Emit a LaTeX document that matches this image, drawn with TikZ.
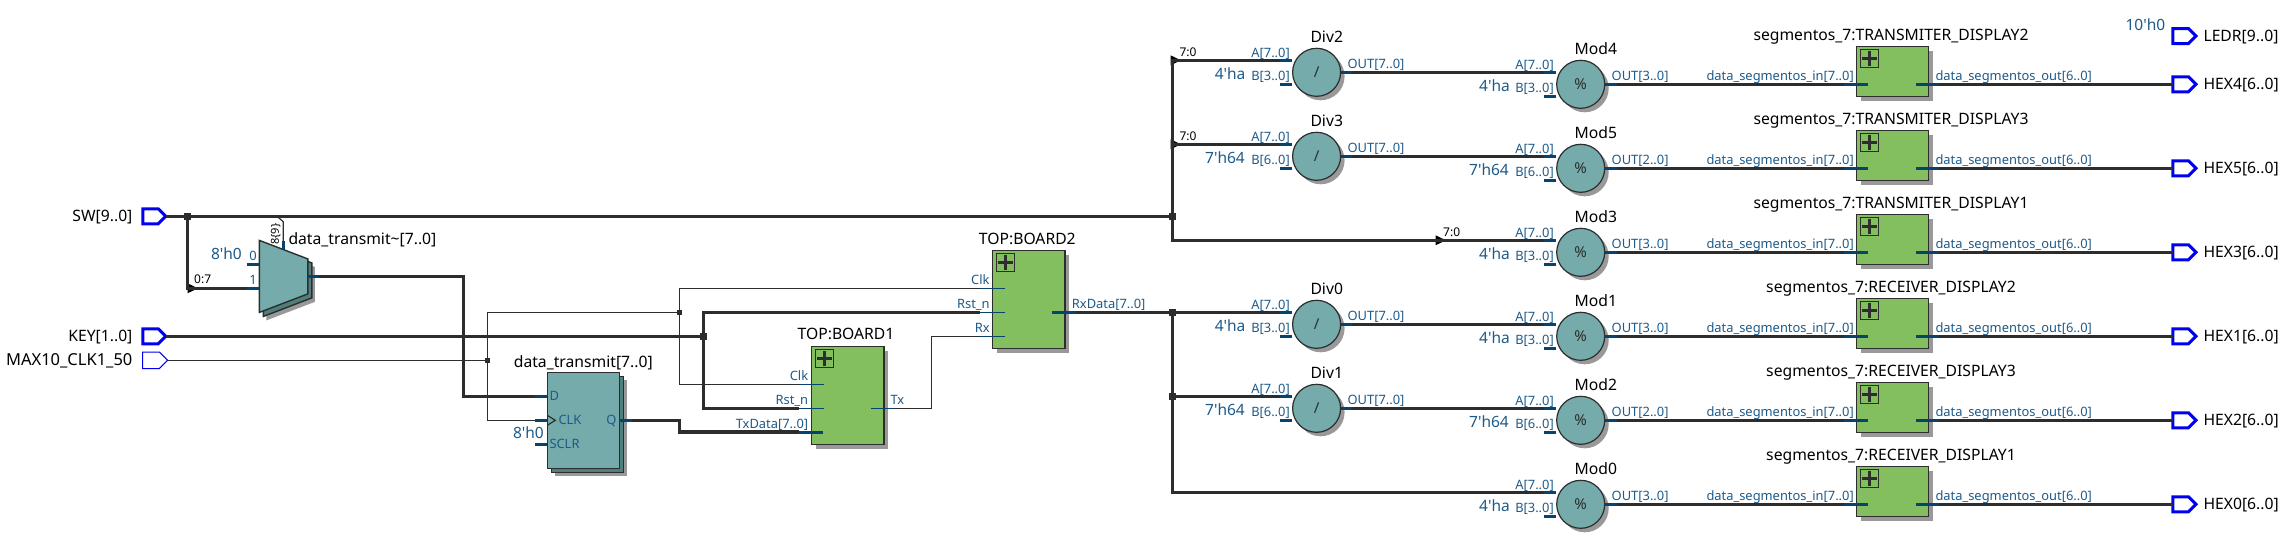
\documentclass[tikz,border=0pt]{standalone}
\usepackage{fontspec}
\setmainfont{Noto Sans}
\usetikzlibrary{shapes, shapes.geometric, shapes.symbols, shadows}
\definecolor{wirecol}{HTML}{2D2D2D}
\definecolor{stubcol}{HTML}{06436E}
\definecolor{textblue}{HTML}{1D5A8A}
\definecolor{tealfill}{HTML}{75ABAA}
\definecolor{tealdark}{HTML}{4F7F7D}
\definecolor{greenfill}{HTML}{83BF5F}
\definecolor{shadowcol}{HTML}{999999}
\definecolor{pinblue}{HTML}{0000F0}

\begin{document}
\begin{tikzpicture}[
        x=1pt, y=-1pt,
        busw/.style={line width=3.2pt, draw=wirecol},
        thinw/.style={line width=1.2pt, draw=wirecol},
        stubw/.style={line width=3pt, draw=stubcol},
        thinstub/.style={line width=1.2pt, draw=stubcol},
        block/.style={draw=wirecol, line width=1.4pt, fill=greenfill, rectangle, outer sep=0pt, inner sep=0pt, minimum width=72.3pt, minimum height=98pt, drop shadow={shadow xshift=4.5pt, shadow yshift=-4.3pt, fill=shadowcol, opacity=1}},
        segblock/.style={block, minimum height=50.4pt},
        plusbox/.style={draw=wirecol, line width=1.2pt, rectangle, outer sep=0pt, inner sep=0pt, minimum size=18pt, path picture={\draw[line width=3pt, draw=wirecol] (path picture bounding box.center) +(-7.5,0) -- +(7.5,0) +(0,-7.5) -- +(0,7.5);}},
        opcirc/.style={draw=wirecol, line width=1.2pt, fill=tealfill, circle, outer sep=0pt, inner sep=0pt, minimum size=48pt, text=wirecol, font=\fontsize{15}{18}\selectfont, drop shadow={shadow xshift=4pt, shadow yshift=-4pt, fill=shadowcol, opacity=1}},
        ffbox/.style={draw=wirecol, line width=1.4pt, fill=tealfill, rectangle, outer sep=0pt, inner sep=0pt, minimum width=72pt, minimum height=96pt, drop shadow={shadow xshift=8pt, shadow yshift=-8pt, fill=shadowcol, opacity=1}, copy shadow={shadow xshift=4pt, shadow yshift=-4pt, fill=tealdark, draw=wirecol, opacity=1}},
        muxbody/.style={draw=wirecol, line width=1.4pt, fill=tealfill},
        pinio/.style={signal, signal to=east, signal pointer angle=90, draw=pinblue, line width=3pt, outer sep=0pt, inner sep=0pt, minimum width=23pt, minimum height=15pt},
        pinthin/.style={pinio, line width=1pt, minimum width=25pt, minimum height=16.5pt},
        jctbig/.style={rectangle, fill=wirecol, inner sep=0pt, minimum size=6.5pt},
        jctsmall/.style={rectangle, fill=wirecol, inner sep=0pt, minimum size=4.5pt},
        taptri/.style={isosceles triangle, isosceles triangle stretches=true, fill=black, inner sep=0pt, outer sep=0pt, minimum width=10pt, minimum height=10.5pt, anchor=apex},
        txt/.style={inner sep=0pt, text depth=0pt},
        caption/.style={txt, text height=13pt, text=black, font=\fontsize{15.7}{18}\selectfont},
        portr/.style={txt, text height=10pt, anchor=east, text=textblue, font=\fontsize{12.9}{14}\selectfont},
        portl/.style={txt, text height=10pt, anchor=west, text=textblue, font=\fontsize{12.9}{14}\selectfont},
        constl/.style={txt, text height=11pt, anchor=east, text=textblue, font=\fontsize{15.5}{18}\selectfont},
        tapl/.style={txt, text height=9.5pt, anchor=west, text=black, font=\fontsize{12}{14}\selectfont}
    ]
        \useasboundingbox (0,0) rectangle (2283,541);

        % Input pins
        \node[pinio] (swpin) at (150.5,216.3) {};
        \node[pinio] (keypin) at (150.5,336.3) {};
        \node[pinthin] (clkpin) at (151,360.3) {};
        \node[caption, anchor=east] (swlab) at (132.6,214.7) {SW[9..0]};
        \node[caption, anchor=east] (keylab) at (132.6,334.7) {KEY[1..0]};
        \node[caption, anchor=east, font=\fontsize{16.5}{18}\selectfont] (clklab) at (132.6,359) {MAX10\_CLK1\_50};

        % Junctions
        \node[jctbig] (swj1) at (187.5,216.3) {};
        \node[jctbig] (swj2) at (1172.5,216.3) {};
        \node[jctbig] (keyj) at (703.6,336.3) {};
        \node[jctsmall] (clkj1) at (487.5,360.3) {};
        \node[jctsmall] (clkj2) at (679.5,312.3) {};
        \node[jctbig] (rxj1) at (1172.5,312.3) {};
        \node[jctbig] (rxj2) at (1172.5,396.3) {};

        % Mux
        \node[tapl, rotate=90, anchor=center, font=\fontsize{11}{14}\selectfont] (seltxt) at (274,234) {8\{9\}};
        \coordinate (mux) at (283.6,276.4);
        \fill[shadowcol] (mux) ++(-17.2,-28) -- ++(48.4,18.5) -- ++(0,35) -- ++(-48.4,18.5) -- cycle;
        \draw[muxbody, fill=tealdark] (mux) ++(-20.2,-32) -- ++(48.4,18.5) -- ++(0,35) -- ++(-48.4,18.5) -- cycle;
        \draw[muxbody] (mux) ++(-24.2,-36) -- ++(48.4,18.5) -- ++(0,35) -- ++(-48.4,18.5) -- cycle;
        \node[caption, anchor=west] (muxlab) at (288.3,237.7) {data\_transmit\textasciitilde[7..0]};
        \node[constl] (muxc) at (242,254) {8\textquotesingle h0};
        \node[portr] (mux0) at (257,255.7) {0};
        \node[portr] (mux1) at (257,279.3) {1};
        \node[tapl] (muxtap) at (194,279) {0:7};
        \node[taptri] (muxtri) at (198,288.3) {};
        \draw[stubw] ([shift={(-24.2,-12.1)}]mux) -- ++(-12.4,0);
        \draw[stubw] ([shift={(-24.2,11.9)}]mux) -- ++(-12.4,0) coordinate (muxi);
        \draw[stubw] ([shift={(24.2,0)}]mux) -- ++(11,0) coordinate (muxo);
        \draw[stubw] ([shift={(-0.3,-26.8)}]mux) -- ++(0,-8.6) coordinate (muxs);
        \coordinate (seltap) at (277,216.3);
        \coordinate (selbend) at (283.3,221.7);
        \coordinate (muxbend) at (463.8,396.3);

        % Register
        \node[ffbox] (ff) at (583.3,420.3) {};
        \node[caption] (fflab) at (583.3,361) {data\_transmit[7..0]};
        \node[constl] (ffc) at (544,433.3) {8\textquotesingle h0};
        \node[portl] (ffdl) at (549.3,395.7) {D};
        \node[portl] (ffclkl) at (558.3,419.7) {CLK};
        \node[portl] (ffsl) at (549.3,443.7) {SCLR};
        \node[portr] (ffql) at (616.7,419.7) {Q};
        \draw[stubw] ([shift={(-36,-24)}]ff.center) -- ++(-12.3,0) coordinate (ffd);
        \draw[stubw] ([shift={(-36,0)}]ff.center) -- ++(-12.3,0) coordinate (ffclk);
        \draw[stubw] ([shift={(-36,24)}]ff.center) -- ++(-12.3,0);
        \draw[stubw] ([shift={(36,0)}]ff.center) -- ++(12.4,0) coordinate (ffq);
        \draw[thinw] ([shift={(-36,-5)}]ff.center) -- ++(8,5) -- ++(-8,5);
        \coordinate (txbend) at (679.5,432);

        % Boards
        \node[block] (board1) at (847.65,395.3) {};
        \node[plusbox] (plus1) at (824.5,358.5) {};
        \node[caption] (board1lab) at (846,333.3) {TOP:BOARD1};
        \node[portr] (b1clkl) at (808.4,375.7) {Clk};
        \node[portr] (b1rstl) at (808.4,399.7) {Rst\_n};
        \node[portr] (b1txdl) at (808.4,423.7) {TxData[7..0]};
        \node[portl] (b1txl) at (890.3,399.7) {Tx};
        \draw[thinstub] ([shift={(-23.65,-11)}]board1.center) -- ++(-25,0) coordinate (b1clk);
        \draw[thinstub] ([shift={(-23.65,13)}]board1.center) -- ++(-25,0) coordinate (b1rst);
        \draw[stubw] ([shift={(-24.65,36.7)}]board1.center) -- ++(-24,0) coordinate (b1txd);
        \draw[thinstub] ([shift={(23.35,13)}]board1.center) -- ++(23,0) coordinate (b1tx);
        \coordinate (rxbend) at (931.7,336.3);

        \node[block] (board2) at (1028.65,299.3) {};
        \node[plusbox] (plus2) at (1005.5,262.5) {};
        \node[caption] (board2lab) at (1027.3,237.7) {TOP:BOARD2};
        \node[portr] (b2clkl) at (989.8,279.7) {Clk};
        \node[portr] (b2rstl) at (989.8,303.7) {Rst\_n};
        \node[portr] (b2rxl) at (989.8,327.7) {Rx};
        \node[portl] (b2rxdl) at (1071.7,303.7) {RxData[7..0]};
        \draw[thinstub] ([shift={(-23.65,-11)}]board2.center) -- ++(-25,0) coordinate (b2clk);
        \draw[thinstub] ([shift={(-23.65,13)}]board2.center) -- ++(-25,0) coordinate (b2rst);
        \draw[thinstub] ([shift={(-23.65,37)}]board2.center) -- ++(-25,0) coordinate (b2rx);
        \draw[stubw] ([shift={(23.35,13)}]board2.center) -- ++(24,0) coordinate (b2rxd);

        % Dividers
        \node[taptri] (div2tri) at (1181,60.3) {};
        \node[tapl] (div2tap) at (1179.4,51.7) {7:0};
        \node[opcirc] (div2) at (1316.6,72.3) {/};
        \node[caption, anchor=west] (div2lab) at (1310.3,36.3) {Div2};
        \node[portr] (div2al) at (1290,52) {A[7..0]};
        \node[portr] (div2bl) at (1290,75.7) {B[3..0]};
        \node[portl] (div2ol) at (1347.4,63.3) {OUT[7..0]};
        \node[constl] (div2c) at (1245.6,74) {4\textquotesingle ha};
        \draw[stubw] ([shift={(-24.3,-12)}]div2.center) -- ++(-12,0) coordinate (div2a);
        \draw[stubw] ([shift={(-24.3,12)}]div2.center) -- ++(-12,0);
        \draw[stubw] ([shift={(24.4,0)}]div2.center) -- ++(10.6,0) coordinate (div2o);

        \node[taptri] (div3tri) at (1181,144.3) {};
        \node[tapl] (div3tap) at (1179.4,135.7) {7:0};
        \node[opcirc] (div3) at (1316.6,156.3) {/};
        \node[caption, anchor=west] (div3lab) at (1310.3,120.3) {Div3};
        \node[portr] (div3al) at (1290,136) {A[7..0]};
        \node[portr] (div3bl) at (1290,159.7) {B[6..0]};
        \node[portl] (div3ol) at (1347.4,147.3) {OUT[7..0]};
        \node[constl] (div3c) at (1245,158) {7\textquotesingle h64};
        \draw[stubw] ([shift={(-24.3,-12)}]div3.center) -- ++(-12,0) coordinate (div3a);
        \draw[stubw] ([shift={(-24.3,12)}]div3.center) -- ++(-12,0);
        \draw[stubw] ([shift={(24.4,0)}]div3.center) -- ++(10.6,0) coordinate (div3o);

        \node[opcirc] (div0) at (1316.6,324.3) {/};
        \node[caption, anchor=west] (div0lab) at (1310.3,288.3) {Div0};
        \node[portr] (div0al) at (1290,304) {A[7..0]};
        \node[portr] (div0bl) at (1290,327.7) {B[3..0]};
        \node[portl] (div0ol) at (1347.4,315.3) {OUT[7..0]};
        \node[constl] (div0c) at (1245.6,326) {4\textquotesingle ha};
        \draw[stubw] ([shift={(-24.3,-12)}]div0.center) -- ++(-12,0) coordinate (div0a);
        \draw[stubw] ([shift={(-24.3,12)}]div0.center) -- ++(-12,0);
        \draw[stubw] ([shift={(24.4,0)}]div0.center) -- ++(10.6,0) coordinate (div0o);

        \node[opcirc] (div1) at (1316.6,408.3) {/};
        \node[caption, anchor=west] (div1lab) at (1310.3,372.3) {Div1};
        \node[portr] (div1al) at (1290,388) {A[7..0]};
        \node[portr] (div1bl) at (1290,411.7) {B[6..0]};
        \node[portl] (div1ol) at (1347.4,399.3) {OUT[7..0]};
        \node[constl] (div1c) at (1245,410) {7\textquotesingle h64};
        \draw[stubw] ([shift={(-24.3,-12)}]div1.center) -- ++(-12,0) coordinate (div1a);
        \draw[stubw] ([shift={(-24.3,12)}]div1.center) -- ++(-12,0);
        \draw[stubw] ([shift={(24.4,0)}]div1.center) -- ++(10.6,0) coordinate (div1o);

        % Modulos
        \node[opcirc] (mod4) at (1580.7,84.3) {\%};
        \node[caption, anchor=west] (mod4lab) at (1574.4,48.3) {Mod4};
        \node[portr] (mod4al) at (1554,64) {A[7..0]};
        \node[portr] (mod4bl) at (1554,87.7) {B[3..0]};
        \node[portl] (mod4ol) at (1611.5,75.3) {OUT[3..0]};
        \node[constl] (mod4c) at (1510,86) {4\textquotesingle ha};
        \draw[stubw] ([shift={(-24.3,-12)}]mod4.center) -- ++(-12,0) coordinate (mod4a);
        \draw[stubw] ([shift={(-24.3,12)}]mod4.center) -- ++(-12,0);
        \draw[stubw] ([shift={(24.4,0)}]mod4.center) -- ++(11.5,0) coordinate (mod4o);

        \node[opcirc] (mod5) at (1580.7,168.3) {\%};
        \node[caption, anchor=west] (mod5lab) at (1574.4,132.3) {Mod5};
        \node[portr] (mod5al) at (1554,148) {A[7..0]};
        \node[portr] (mod5bl) at (1554,171.7) {B[6..0]};
        \node[portl] (mod5ol) at (1611.5,159.3) {OUT[2..0]};
        \node[constl] (mod5c) at (1509,170) {7\textquotesingle h64};
        \draw[stubw] ([shift={(-24.3,-12)}]mod5.center) -- ++(-12,0) coordinate (mod5a);
        \draw[stubw] ([shift={(-24.3,12)}]mod5.center) -- ++(-12,0);
        \draw[stubw] ([shift={(24.4,0)}]mod5.center) -- ++(11.5,0) coordinate (mod5o);

        \node[taptri] (mod3tri) at (1446,240.3) {};
        \node[tapl] (mod3tap) at (1443,231.7) {7:0};
        \node[opcirc] (mod3) at (1580.7,252.3) {\%};
        \node[caption, anchor=west] (mod3lab) at (1574.4,216.3) {Mod3};
        \node[portr] (mod3al) at (1554,232) {A[7..0]};
        \node[portr] (mod3bl) at (1554,255.7) {B[3..0]};
        \node[portl] (mod3ol) at (1611.5,243.3) {OUT[3..0]};
        \node[constl] (mod3c) at (1510,254) {4\textquotesingle ha};
        \draw[stubw] ([shift={(-24.3,-12)}]mod3.center) -- ++(-12,0) coordinate (mod3a);
        \draw[stubw] ([shift={(-24.3,12)}]mod3.center) -- ++(-12,0);
        \draw[stubw] ([shift={(24.4,0)}]mod3.center) -- ++(11.5,0) coordinate (mod3o);

        \node[opcirc] (mod1) at (1580.7,336.3) {\%};
        \node[caption, anchor=west] (mod1lab) at (1574.4,300.3) {Mod1};
        \node[portr] (mod1al) at (1554,316) {A[7..0]};
        \node[portr] (mod1bl) at (1554,339.7) {B[3..0]};
        \node[portl] (mod1ol) at (1611.5,327.3) {OUT[3..0]};
        \node[constl] (mod1c) at (1510,338) {4\textquotesingle ha};
        \draw[stubw] ([shift={(-24.3,-12)}]mod1.center) -- ++(-12,0) coordinate (mod1a);
        \draw[stubw] ([shift={(-24.3,12)}]mod1.center) -- ++(-12,0);
        \draw[stubw] ([shift={(24.4,0)}]mod1.center) -- ++(11.5,0) coordinate (mod1o);

        \node[opcirc] (mod2) at (1580.7,420.3) {\%};
        \node[caption, anchor=west] (mod2lab) at (1574.4,384.3) {Mod2};
        \node[portr] (mod2al) at (1554,400) {A[7..0]};
        \node[portr] (mod2bl) at (1554,423.7) {B[6..0]};
        \node[portl] (mod2ol) at (1611.5,411.3) {OUT[2..0]};
        \node[constl] (mod2c) at (1509,422) {7\textquotesingle h64};
        \draw[stubw] ([shift={(-24.3,-12)}]mod2.center) -- ++(-12,0) coordinate (mod2a);
        \draw[stubw] ([shift={(-24.3,12)}]mod2.center) -- ++(-12,0);
        \draw[stubw] ([shift={(24.4,0)}]mod2.center) -- ++(11.5,0) coordinate (mod2o);

        \node[opcirc] (mod0) at (1580.7,504.3) {\%};
        \node[caption, anchor=west] (mod0lab) at (1574.4,468.3) {Mod0};
        \node[portr] (mod0al) at (1554,484) {A[7..0]};
        \node[portr] (mod0bl) at (1554,507.7) {B[3..0]};
        \node[portl] (mod0ol) at (1611.5,495.3) {OUT[3..0]};
        \node[constl] (mod0c) at (1510,506) {4\textquotesingle ha};
        \draw[stubw] ([shift={(-24.3,-12)}]mod0.center) -- ++(-12,0) coordinate (mod0a);
        \draw[stubw] ([shift={(-24.3,12)}]mod0.center) -- ++(-12,0);
        \draw[stubw] ([shift={(24.4,0)}]mod0.center) -- ++(11.5,0) coordinate (mod0o);

        % Display blocks
        \node[segblock] (seg4) at (1892.5,71.5) {};
        \node[plusbox] (plus4) at (1869.5,58.2) {};
        \node[caption] (seg4lab) at (1891,34) {segmentos\_7:TRANSMITER\_DISPLAY2};
        \node[portr] (seg4il) at (1854,75.7) {data\_segmentos\_in[7..0]};
        \node[portl] (seg4ol) at (1935.3,75.7) {data\_segmentos\_out[6..0]};
        \draw[stubw] ([shift={(-24.5,12.8)}]seg4.center) -- ++(-24,0) coordinate (seg4i);
        \draw[stubw] ([shift={(23.5,12.8)}]seg4.center) -- ++(23.3,0) coordinate (seg4o);

        \node[segblock] (seg5) at (1892.5,155.5) {};
        \node[plusbox] (plus5) at (1869.5,142.2) {};
        \node[caption] (seg5lab) at (1891,118) {segmentos\_7:TRANSMITER\_DISPLAY3};
        \node[portr] (seg5il) at (1854,159.7) {data\_segmentos\_in[7..0]};
        \node[portl] (seg5ol) at (1935.3,159.7) {data\_segmentos\_out[6..0]};
        \draw[stubw] ([shift={(-24.5,12.8)}]seg5.center) -- ++(-24,0) coordinate (seg5i);
        \draw[stubw] ([shift={(23.5,12.8)}]seg5.center) -- ++(23.3,0) coordinate (seg5o);

        \node[segblock] (seg3) at (1892.5,239.5) {};
        \node[plusbox] (plus3) at (1869.5,226.2) {};
        \node[caption] (seg3lab) at (1891,202) {segmentos\_7:TRANSMITER\_DISPLAY1};
        \node[portr] (seg3il) at (1854,243.7) {data\_segmentos\_in[7..0]};
        \node[portl] (seg3ol) at (1935.3,243.7) {data\_segmentos\_out[6..0]};
        \draw[stubw] ([shift={(-24.5,12.8)}]seg3.center) -- ++(-24,0) coordinate (seg3i);
        \draw[stubw] ([shift={(23.5,12.8)}]seg3.center) -- ++(23.3,0) coordinate (seg3o);

        \node[segblock] (seg1) at (1892.5,323.5) {};
        \node[plusbox] (plus6) at (1869.5,310.2) {};
        \node[caption] (seg1lab) at (1891,286) {segmentos\_7:RECEIVER\_DISPLAY2};
        \node[portr] (seg1il) at (1854,327.7) {data\_segmentos\_in[7..0]};
        \node[portl] (seg1ol) at (1935.3,327.7) {data\_segmentos\_out[6..0]};
        \draw[stubw] ([shift={(-24.5,12.8)}]seg1.center) -- ++(-24,0) coordinate (seg1i);
        \draw[stubw] ([shift={(23.5,12.8)}]seg1.center) -- ++(23.3,0) coordinate (seg1o);

        \node[segblock] (seg2) at (1892.5,407.5) {};
        \node[plusbox] (plus7) at (1869.5,394.2) {};
        \node[caption] (seg2lab) at (1891,370) {segmentos\_7:RECEIVER\_DISPLAY3};
        \node[portr] (seg2il) at (1854,411.7) {data\_segmentos\_in[7..0]};
        \node[portl] (seg2ol) at (1935.3,411.7) {data\_segmentos\_out[6..0]};
        \draw[stubw] ([shift={(-24.5,12.8)}]seg2.center) -- ++(-24,0) coordinate (seg2i);
        \draw[stubw] ([shift={(23.5,12.8)}]seg2.center) -- ++(23.3,0) coordinate (seg2o);

        \node[segblock] (seg0) at (1892.5,491.5) {};
        \node[plusbox] (plus8) at (1869.5,478.2) {};
        \node[caption] (seg0lab) at (1891,454) {segmentos\_7:RECEIVER\_DISPLAY1};
        \node[portr] (seg0il) at (1854,495.7) {data\_segmentos\_in[7..0]};
        \node[portl] (seg0ol) at (1935.3,495.7) {data\_segmentos\_out[6..0]};
        \draw[stubw] ([shift={(-24.5,12.8)}]seg0.center) -- ++(-24,0) coordinate (seg0i);
        \draw[stubw] ([shift={(23.5,12.8)}]seg0.center) -- ++(23.3,0) coordinate (seg0o);

        % Output pins
        \node[pinio] (ledrpin) at (2180.7,36) {};
        \node[pinio] (hex4pin) at (2180.7,84.3) {};
        \node[pinio] (hex5pin) at (2180.7,168.3) {};
        \node[pinio] (hex3pin) at (2180.7,252.3) {};
        \node[pinio] (hex1pin) at (2180.7,336.3) {};
        \node[pinio] (hex2pin) at (2180.7,420.3) {};
        \node[pinio] (hex0pin) at (2180.7,504.3) {};
        \node[constl] (ledrc) at (2165.4,25) {10\textquotesingle h0};
        \node[caption, anchor=west] (ledrlab) at (2203.3,34.5) {LEDR[9..0]};
        \node[caption, anchor=west] (hex4lab) at (2203.3,82.7) {HEX4[6..0]};
        \node[caption, anchor=west] (hex5lab) at (2203.3,166.7) {HEX5[6..0]};
        \node[caption, anchor=west] (hex3lab) at (2203.3,250.7) {HEX3[6..0]};
        \node[caption, anchor=west] (hex1lab) at (2203.3,334.7) {HEX1[6..0]};
        \node[caption, anchor=west] (hex2lab) at (2203.3,418.7) {HEX2[6..0]};
        \node[caption, anchor=west] (hex0lab) at (2203.3,502.7) {HEX0[6..0]};

        % Wires on the left
        \draw[busw] (swpin.east) -- (swj2);
        \draw[busw] (swj1) |- (muxi);
        \draw[thinw] (seltap) -- (selbend) -- (muxs);
        \draw[busw] (muxo) -| (muxbend) -- (ffd);
        \draw[busw] (keypin.east) -- (keyj);
        \draw[thinw] (clkpin.east) -- (clkj1);
        \draw[thinw] (ffclk) -| (clkj1) |- (clkj2);
        \draw[thinw] (b2clk) -| (clkj2) |- (b1clk);
        \draw[busw] (b2rst) -| (keyj) |- (b1rst);
        \draw[busw] (ffq) -| (txbend) -- (b1txd);
        \draw[thinw] (b1tx) -| (rxbend) -- (b2rx);

        % Wires on the right
        \draw[busw] (swj2) |- (div2a);
        \draw[busw] (swj2) |- (div3a);
        \draw[busw] (swj2) |- (mod3a);
        \draw[busw] (b2rxd) -- (div0a);
        \draw[busw] (rxj1) -- (rxj2);
        \draw[busw] (rxj2) -- (div1a);
        \draw[busw] (rxj2) |- (mod0a);
        \draw[busw] (div2o) -- (mod4a);
        \draw[busw] (div3o) -- (mod5a);
        \draw[busw] (div0o) -- (mod1a);
        \draw[busw] (div1o) -- (mod2a);
        \draw[busw] (mod4o) -- (seg4i);
        \draw[busw] (mod5o) -- (seg5i);
        \draw[busw] (mod3o) -- (seg3i);
        \draw[busw] (mod1o) -- (seg1i);
        \draw[busw] (mod2o) -- (seg2i);
        \draw[busw] (mod0o) -- (seg0i);
        \draw[busw] (seg4o) -- (hex4pin.west);
        \draw[busw] (seg5o) -- (hex5pin.west);
        \draw[busw] (seg3o) -- (hex3pin.west);
        \draw[busw] (seg1o) -- (hex1pin.west);
        \draw[busw] (seg2o) -- (hex2pin.west);
        \draw[busw] (seg0o) -- (hex0pin.west);

    \end{tikzpicture}
\end{document}
